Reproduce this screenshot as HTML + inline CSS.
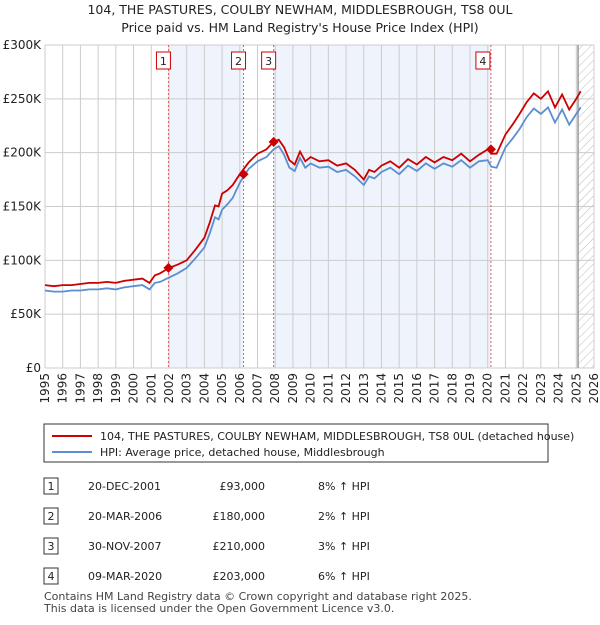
<!DOCTYPE html>
<html><head><meta charset="utf-8"><style>
body{margin:0;background:#fff;font-family:"Liberation Sans","DejaVu Sans",sans-serif;}
svg text{font-family:"DejaVu Sans","Liberation Sans",sans-serif;}
</style></head><body>
<svg id="c" width="600" height="620">
<text x="300" y="14" text-anchor="middle" font-size="12.5" fill="#222">104, THE PASTURES, COULBY NEWHAM, MIDDLESBROUGH, TS8 0UL</text>
<text x="300" y="32" text-anchor="middle" font-size="12.5" fill="#222">Price paid vs. HM Land Registry's House Price Index (HPI)</text>
<g id="plot"></g>
<g>
<rect x="44" y="424" width="504" height="38" fill="#fff" stroke="#333"/>
<line x1="52" y1="436" x2="92" y2="436" stroke="#cc0000" stroke-width="2"/>
<text x="100" y="440" font-size="11" fill="#222">104, THE PASTURES, COULBY NEWHAM, MIDDLESBROUGH, TS8 0UL (detached house)</text>
<line x1="52" y1="452" x2="92" y2="452" stroke="#5b8fd0" stroke-width="2"/>
<text x="100" y="456" font-size="11" fill="#222">HPI: Average price, detached house, Middlesbrough</text>
</g>
<g id="table" font-size="11" fill="#222"></g>
<text x="44" y="600" font-size="11" fill="#444">Contains HM Land Registry data © Crown copyright and database right 2025.</text>
<text x="44" y="612" font-size="11" fill="#444">This data is licensed under the Open Government Licence v3.0.</text>
</svg>
<script>
const years=[1995,1995.5,1996,1996.5,1997,1997.5,1998,1998.5,1999,1999.5,2000,2000.5,2000.9,2001.2,2001.5,2002,2002.5,2003,2003.5,2004,2004.3,2004.6,2004.8,2005,2005.3,2005.6,2006,2006.5,2007,2007.5,2007.9,2008.2,2008.5,2008.8,2009.1,2009.4,2009.7,2010,2010.5,2011,2011.5,2012,2012.5,2013,2013.3,2013.6,2014,2014.5,2015,2015.5,2016,2016.5,2017,2017.5,2018,2018.5,2019,2019.5,2020,2020.2,2020.5,2021,2021.4,2021.8,2022.2,2022.6,2023,2023.4,2023.8,2024.2,2024.6,2025,2025.25];
const hpi=[72,71,71,72,72,73,73,74,73,75,76,77,73,79,80,84,88,93,102,112,125,140,138,147,152,158,172,185,192,196,203,206,198,186,183,195,186,190,186,187,182,184,178,170,178,176,182,186,180,188,183,190,185,190,187,193,186,192,193,187,186,205,213,222,233,241,236,242,228,240,226,236,242,255];
const paid=[77,76,77,77,78,79,79,80,79,81,82,83,79,86,88,93,96,100,110,121,135,151,150,162,165,170,180,191,199,203,210,212,205,193,189,201,192,196,192,193,188,190,184,175,184,182,188,192,186,194,189,196,191,196,193,199,192,198,203,199,199,217,226,236,247,255,250,257,242,254,240,250,257,271];
const sales=[2001.97,2006.21,2007.91,2020.18];
const saleVals=[93,180,210,203];
const saleDates=["20-DEC-2001","20-MAR-2006","30-NOV-2007","09-MAR-2020"];
const salePrices=["£93,000","£180,000","£210,000","£203,000"];
const saleHpi=["8% ↑ HPI","2% ↑ HPI","3% ↑ HPI","6% ↑ HPI"];
const yTicks=[0,50,100,150,200,250,300];
const yLabels=["£0","£50K","£100K","£150K","£200K","£250K","£300K"];
const NS="http://www.w3.org/2000/svg";
const X0=45,X1=594,Y0=368,Y1=45;
const xs=y=>X0+(y-1995)/(2026-1995)*(X1-X0);
const ys=v=>Y0-v/300*(Y0-Y1);
const g=document.getElementById('plot');
function el(t,a,p){const e=document.createElementNS(NS,t);for(const k in a)e.setAttribute(k,a[k]);(p||g).appendChild(e);return e;}
let e;
e=el('rect',{x:xs(sales[0]),y:Y1,width:xs(sales[1])-xs(sales[0]),height:Y0-Y1,fill:'#eef3fc'});


e=el('rect',{x:xs(sales[2]),y:Y1,width:xs(sales[3])-xs(sales[2]),height:Y0-Y1,fill:'#eef3fc'});


const defs=el('defs',{});
const pat=el('pattern',{id:'h',width:6,height:6,patternUnits:'userSpaceOnUse',patternTransform:'rotate(45)'},defs);
el('line',{x1:0,y1:0,x2:0,y2:6,stroke:'#bbb','stroke-width':1},pat);
e=el('rect',{x:xs(2025.1),y:Y1,width:X1-xs(2025.1),height:Y0-Y1,fill:'url(#h)'});


for(let yr=1995;yr<=2026;yr++){
 el('line',{x1:xs(yr),x2:xs(yr),y1:Y1,y2:Y0,stroke:'#ccc'});
 const tx=xs(yr)+4, ty=Y0+5;
 e=el('text',{x:tx,y:ty,'text-anchor':'end','font-size':12,fill:'#222',transform:`rotate(-90 ${tx} ${ty})`});e.textContent=yr;
 
 
}
yTicks.forEach((v,i)=>{
 el('line',{x1:X0,x2:X1,y1:ys(v),y2:ys(v),stroke:'#ccc'});
 e=el('text',{x:X0-4,y:ys(v)+4,'text-anchor':'end','font-size':12,fill:'#222'});e.textContent=yLabels[i];
 
 
});
el('line',{x1:xs(2025.1),x2:xs(2025.1),y1:Y1,y2:Y0,stroke:'#999','stroke-width':1.5});
sales.forEach((s,i)=>{
 el('line',{x1:xs(s),x2:xs(s),y1:Y1,y2:Y0,stroke:'#e06060','stroke-dasharray':'2,2'});
 e=el('rect',{x:xs(s)-12+(i==3?-3:0),y:52,width:14,height:17,fill:'#fff',stroke:'#cc0000'});
 
 
 e=el('text',{x:xs(s)-5+(i==3?-3:0),y:65,'text-anchor':'middle','font-size':11,fill:'#222'});e.textContent=i+1;
});
const pts=a=>a.map((v,i)=>xs(years[i]).toFixed(1)+','+ys(v).toFixed(1)).join(' ');
e=el('polyline',{points:pts(hpi),fill:'none',stroke:'#5b8fd0','stroke-width':1.8});


e=el('polyline',{points:pts(paid),fill:'none',stroke:'#cc0000','stroke-width':1.8});


sales.forEach((s,i)=>{
 const cx=xs(s),cy=ys(saleVals[i]);
 e=el('polygon',{points:`${cx},${cy-5} ${cx+5},${cy} ${cx},${cy+5} ${cx-5},${cy}`,fill:'#cc0000'});
 
 
});
const tb=document.getElementById('table');
sales.forEach((s,i)=>{
 const y=488+i*30;
 e=el('rect',{x:44,y:y-10,width:14,height:16,fill:'#fff',stroke:'#333'},tb);
 
 
 e=el('text',{x:51,y:y+2,'text-anchor':'middle'},tb);e.textContent=i+1;
 e=el('text',{x:88,y:y+2},tb);e.textContent=saleDates[i];
 
 
 e=el('text',{x:265,y:y+2,'text-anchor':'end'},tb);e.textContent=salePrices[i];
 
 
 e=el('text',{x:318,y:y+2},tb);e.textContent=saleHpi[i];
 
 
});
</script>
</body></html>
